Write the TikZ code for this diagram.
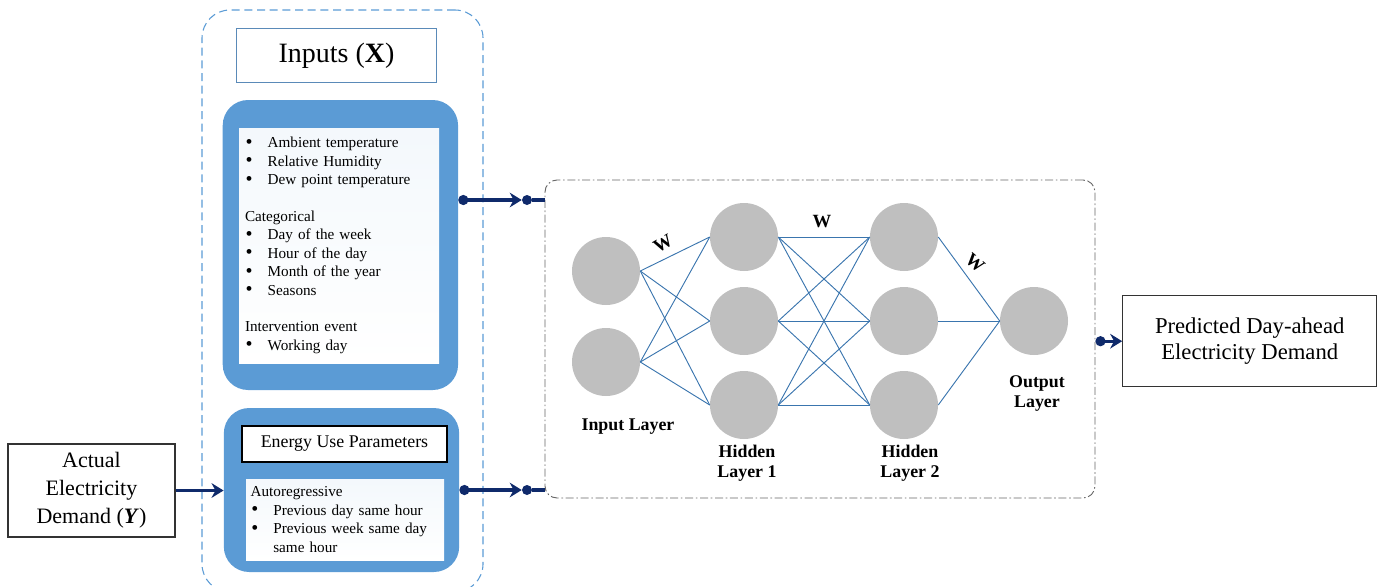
\documentclass[tikz,border=0pt]{standalone}
\usepackage{fontspec}
\setmainfont{Liberation Serif}
\usepackage{tikz}
\usetikzlibrary{arrows.meta,positioning}
\definecolor{blockblue}{HTML}{5B9BD5}
\definecolor{navyline}{HTML}{0F2A6B}
\definecolor{edgeblue}{HTML}{3A75AE}
\definecolor{neurongray}{HTML}{BFBFBF}
\definecolor{titleedge}{HTML}{5A8AB8}
\newcommand{\bul}{\makebox[17pt][l]{\hspace{0.5pt}\raisebox{-0.3pt}{\fontsize{15}{13.8}\selectfont\textbullet}}}

\begin{document}
\begin{tikzpicture}[x=0.75pt, y=-0.75pt,
  every node/.style={font=\fontsize{11.4}{13.8}\selectfont},
  group/.style={draw=blockblue, dash pattern=on 6pt off 3.5pt, line width=0.8pt,
    rounded corners=21pt, minimum width=210.75pt, minimum height=436.5pt},
  block/.style={fill=blockblue, rounded corners=19pt},
  listbox/.style={top color=blockblue!7, bottom color=white, align=left,
    inner xsep=4.5pt, inner ysep=0pt},
  titlebox/.style={draw, fill=white, align=center, inner sep=0pt},
  plainbox/.style={draw=black!80, line width=0.8pt, align=center, inner sep=0pt},
  nnbox/.style={draw=black!60, line width=0.7pt, rounded corners=9pt,
    dash pattern=on 6pt off 2pt on 1.2pt off 2pt},
  neuron/.style={circle, fill=neurongray, minimum size=51pt, inner sep=0pt},
  wire/.style={draw=edgeblue, line width=0.7pt},
  wlab/.style={font=\bfseries\fontsize{14}{16}\selectfont},
  layerlab/.style={font=\bfseries\fontsize{13.4}{15}\selectfont, align=center},
  link/.style={draw=navyline, line width=2.4pt},
  dot/.style={circle, fill=navyline, inner sep=0pt, minimum size=7.5pt},
  >={Stealth[length=9pt, width=11pt]},
]
  \useasboundingbox (0,0) rectangle (1380,586);

  % inputs group
  \node[group] (xgrp) at (342.5,301) {};
  \node[titlebox, draw=titleedge, line width=0.8pt, minimum width=150pt, minimum height=41pt,
    font=\fontsize{21}{25}\selectfont] (xtitle) at (336.5,55.5) {Inputs (\textbf{X})};

  \node[block, minimum width=176.5pt, minimum height=217.5pt] (blk1) at (340.4,245) {};
  \node[listbox, text width=141pt, minimum height=176.25pt] (feat) at (339,245.5) {%
    \bul Ambient temperature\\
    \bul Relative Humidity\\
    \bul Dew point temperature\\[13.8pt]
    Categorical\\
    \bul Day of the week\\
    \bul Hour of the day\\
    \bul Month of the year\\
    \bul Seasons\\[13.8pt]
    Intervention event\\
    \bul Working day};

  \node[block, minimum width=176.5pt, minimum height=123pt] (blk2) at (341.5,490) {};
  \node[titlebox, line width=1pt, minimum width=153.75pt, minimum height=27pt,
    font=\fontsize{13.4}{16}\selectfont] (energy) at (344.5,444) {Energy Use Parameters};
  \node[listbox, inner xsep=3.5pt, text width=141.5pt, minimum height=60.75pt] (auto) at (345,519.5) {%
    Autoregressive\\
    \bul Previous day same hour\\
    \bul Previous week same day\\
    \hspace*{17pt}same hour};

  % actual demand
  \node[plainbox, minimum width=125.25pt, minimum height=69.75pt,
    font=\fontsize{16.5}{21}\selectfont] (actual) at (91.5,490.5)
    {Actual\\Electricity\\Demand (\textbf{\textit{Y}})};
  \draw[link, ->] (actual) -- (actual -| blk2.west);

  % network
  \node[nnbox, minimum width=412.5pt, minimum height=238.5pt] (nn) at (820,339) {};

  \node[neuron] (in1) at (606,271) {};
  \node[neuron] (in2) at (606,362) {};
  \node[neuron] (h11) at (744,237) {};
  \node[neuron] (h12) at (744,321) {};
  \node[neuron] (h13) at (744,405) {};
  \node[neuron] (h21) at (904,237) {};
  \node[neuron] (h22) at (904,321) {};
  \node[neuron] (h23) at (904,405) {};
  \node[neuron] (out) at (1034,321) {};

  \draw[wire] (in1.east) -- (h11.west);  \draw[wire] (in1.east) -- (h12.west);  \draw[wire] (in1.east) -- (h13.west);
  \draw[wire] (in2.east) -- (h11.west);  \draw[wire] (in2.east) -- (h12.west);  \draw[wire] (in2.east) -- (h13.west);
  \draw[wire] (h11.east) -- (h21.west);  \draw[wire] (h11.east) -- (h22.west);  \draw[wire] (h11.east) -- (h23.west);
  \draw[wire] (h12.east) -- (h21.west);  \draw[wire] (h12.east) -- (h22.west);  \draw[wire] (h12.east) -- (h23.west);
  \draw[wire] (h13.east) -- (h21.west);  \draw[wire] (h13.east) -- (h22.west);  \draw[wire] (h13.east) -- (h23.west);
  \draw[wire] (h21.east) -- (out.west);  \draw[wire] (h22.east) -- (out.west);  \draw[wire] (h23.east) -- (out.west);

  \node[wlab, rotate=30] (w1) at (663,244) {W};
  \node[wlab] (w2) at (822,222) {W};
  \node[wlab, rotate=-40] (w3) at (975,263) {W};

  \node[layerlab] (inlab) at (628,427) {Input Layer};
  \node[layerlab] (h1lab) at (747,463) {Hidden\\Layer 1};
  \node[layerlab] (h2lab) at (910,463) {Hidden\\Layer 2};
  \node[layerlab] (outlab) at (1037,394) {Output\\Layer};

  % connectors into the network
  \node[dot] (j1) at (527,200) {};
  \node[dot] (j2) at (527,490) {};
  \draw[link, {Circle[length=7.5pt]}->] (blk1.east |- j1) -- (j1.west);
  \draw[link] (j1) -- (j1 -| nn.west);
  \draw[link, {Circle[length=7.5pt]}->] (blk2.east |- j2) -- (j2.west);
  \draw[link] (j2) -- (j2 -| nn.west);

  % prediction
  \node[plainbox, minimum width=190.5pt, minimum height=68.25pt,
    font=\fontsize{17}{19.5}\selectfont] (pred) at (1249.7,341.2)
    {Predicted Day-ahead\\Electricity Demand};
  \draw[link, {Circle[length=7.5pt]}->] (nn.east |- pred) -- (pred.west);
\end{tikzpicture}
\end{document}
